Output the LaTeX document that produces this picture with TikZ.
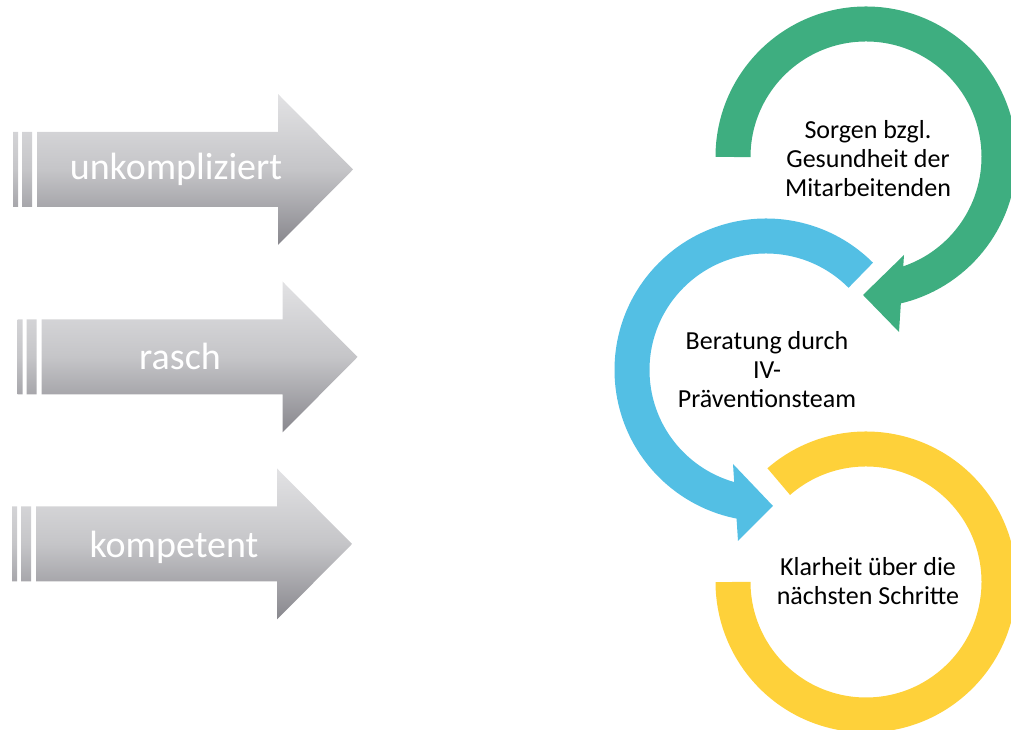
\documentclass[tikz,border=0pt]{standalone}
\usepackage{fontspec}
\setmainfont{Carlito}

\definecolor{ringgreen}{RGB}{62,174,128}
\definecolor{ringblue}{RGB}{83,191,228}
\definecolor{ringyellow}{RGB}{254,209,58}
\definecolor{arrowtop}{RGB}{226,226,228}
\definecolor{arrowmid}{RGB}{197,197,200}
\definecolor{arrowbot}{RGB}{136,135,141}

\tikzset{
    grayfill/.style={top color=arrowtop, bottom color=arrowbot, middle color=arrowmid},
    arrowtext/.style={text=white, anchor=base, font=\fontsize{28.5}{34}\selectfont},
    ring/.style={line width=26.25pt},
    ringtext/.style={align=center, font=\fontsize{19.5}{21.75}\selectfont}
}

\begin{document}
\begin{tikzpicture}[x=0.75pt, y=0.75pt]
    \clip (0,0) rectangle (1011,730);

%arrows
    \begin{scope}[shift={(0,560.5)}]
    \shade[grayfill] (13,-37.5) rectangle (18,37.5) (22,-37.5) rectangle (32,37.5)
        (37,-37.5) -- (278,-37.5) -- (278,-75.5) -- (353,0) -- (278,75.5) -- (278,37.5) -- (37,37.5) -- cycle;
    \end{scope}
    \node[arrowtext] (unkompliziert) at (176,550) {unkompliziert};

    \begin{scope}[shift={(4.5,373)}]
    \shade[grayfill] (13,-37.5) rectangle (18,37.5) (22,-37.5) rectangle (32,37.5)
        (37,-37.5) -- (278,-37.5) -- (278,-75.5) -- (353,0) -- (278,75.5) -- (278,37.5) -- (37,37.5) -- cycle;
    \end{scope}
    \node[arrowtext] (rasch) at (180,360) {rasch};

    \begin{scope}[shift={(-1,186)}]
    \shade[grayfill] (13,-37.5) rectangle (18,37.5) (22,-37.5) rectangle (32,37.5)
        (37,-37.5) -- (278,-37.5) -- (278,-75.5) -- (353,0) -- (278,75.5) -- (278,37.5) -- (37,37.5) -- cycle;
    \end{scope}
    \node[arrowtext] (kompetent) at (174,172) {kompetent};

%green
    \coordinate (green) at (866,573);
    \draw[ring, ringgreen] (green) ++(180:133) arc[start angle=180, end angle=-78, radius=133];
    \fill[ringgreen] (904,475) -- (863,435) -- (899,398) -- cycle;
    \node[ringtext] (sorgen) at (868,571.5) {Sorgen bzgl.\\Gesundheit der\\Mitarbeitenden};

%blue
    \coordinate (blue) at (766,360);
    \draw[ring, ringblue] (blue) ++(45:134) arc[start angle=45, end angle=260, radius=134];
    \fill[ringblue] (733,266) -- (773,224) -- (738,189) -- cycle;
    \node[ringtext] (beratung) at (767,360.5) {Beratung durch\\IV-\\Präventionsteam};

%yellow
    \coordinate (yellow) at (866,148);
    \draw[ring, ringyellow] (yellow) ++(131:133) arc[start angle=131, end angle=-180, radius=133];
    \node[ringtext] (klarheit) at (868,149) {Klarheit über die\\nächsten Schritte};

\end{tikzpicture}
\end{document}
